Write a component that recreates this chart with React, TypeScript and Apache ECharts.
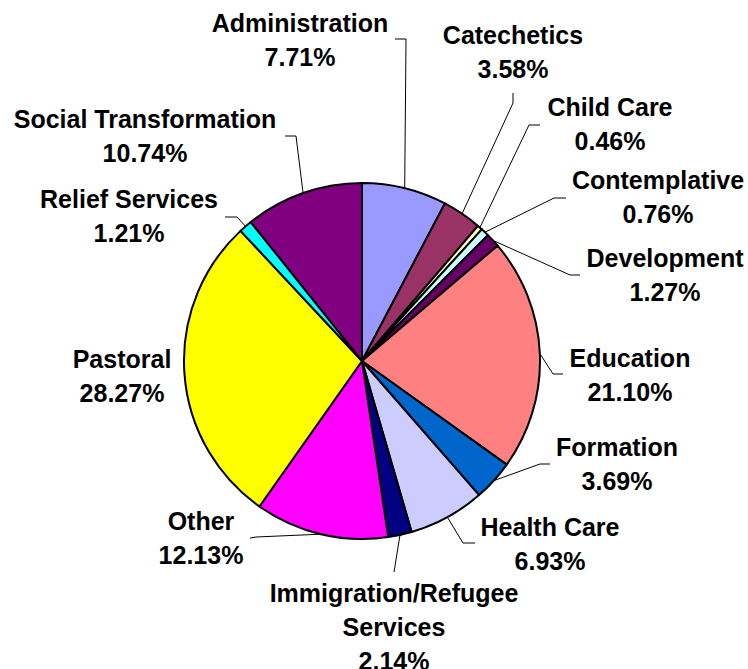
import React, { useEffect, useRef } from 'react';
import * as echarts from 'echarts';

const categories = [
  'Administration',
  'Catechetics',
  'Child Care',
  'Contemplative',
  'Development',
  'Education',
  'Formation',
  'Health Care',
  'Immigration/Refugee Services',
  'Other',
  'Pastoral',
  'Relief Services',
  'Social Transformation',
];
const shares = [7.71, 3.58, 0.46, 0.76, 1.27, 21.1, 3.69, 6.93, 2.14, 12.13, 28.27, 1.21, 10.74];
const colors = [
  '#9999FF', '#993366', '#FFFFCC', '#CCFFFF', '#660066', '#FF8080', '#0066CC',
  '#CCCCFF', '#000080', '#FF00FF', '#FFFF00', '#00FFFF', '#800080',
];

// label layout (pixels): centre of each label block, leader elbow and leader end
const labelCentres: number[][] = [
  [300, 40], [513, 52], [610, 124], [658, 197], [665, 275], [630, 375], [617, 464],
  [550, 544], [394, 627], [201, 538], [122, 376], [129, 216], [145, 136],
];
const leaderElbows: (number[] | null)[] = [
  [406, 39], [513, 103], [529, 125], [554, 198], [570, 275], [553, 374], [540, 464],
  [463, 543], [395, 566], [256, 537], null, [237, 217], [296, 136],
];
const leaderEnds: (number[] | null)[] = [
  [395, 39], [513, 93], [540, 125], [566, 198], [580, 275], [563, 374], [550, 464],
  [475, 543], [394, 572], [250, 538], null, [225, 217], [285, 136],
];

export default function App() {
  const ref = useRef<HTMLDivElement>(null);
  useEffect(() => {
    if (!ref.current) return;
    const chart = echarts.init(ref.current, undefined, { renderer: 'svg' });
    const data = categories.map((name, i) => ({
      name,
      value: shares[i],
      itemStyle: { color: colors[i] },
      labelLine: { show: leaderElbows[i] !== null },
    }));
    chart.setOption({
      animation: false,
      backgroundColor: '#ffffff',
      series: [
        {
          type: 'pie',
          center: [362, 361],
          radius: [0, 178],
          startAngle: 90,
          clockwise: true,
          avoidLabelOverlap: false,
          minShowLabelAngle: 0,
          data,
          itemStyle: { borderColor: '#000000', borderWidth: 2 },
          label: {
            show: true,
            position: 'outside',
            color: '#000000',
            fontFamily: '"Liberation Sans", Arial, sans-serif',
            fontWeight: 'bold',
            fontSize: 25,
            lineHeight: 34,
            align: 'center',
            formatter: (p: any) =>
              `${String(p.name).replace('/Refugee ', '/Refugee\n')}\n${Number(p.value).toFixed(2)}%`,
          },
          labelLine: {
            show: true,
            length: 10,
            length2: 10,
            lineStyle: { color: '#000000', width: 1 },
          },
          emphasis: { disabled: true },
          labelLayout: (params: any) => {
            const i = params.dataIndex;
            const [x, y] = labelCentres[i];
            const res: any = { x, y, align: 'center', verticalAlign: 'middle' };
            const p0 = params.labelLinePoints && params.labelLinePoints[0];
            const el = leaderElbows[i];
            const en = leaderEnds[i];
            if (p0 && el && en) res.labelLinePoints = [p0, el, en];
            return res;
          },
        },
      ],
    });
    return () => chart.dispose();
  }, []);
  return (
    <div
      ref={ref}
      style={{ position: 'fixed', left: 0, top: 0, width: 748, height: 669, background: '#fff' }}
    />
  );
}
